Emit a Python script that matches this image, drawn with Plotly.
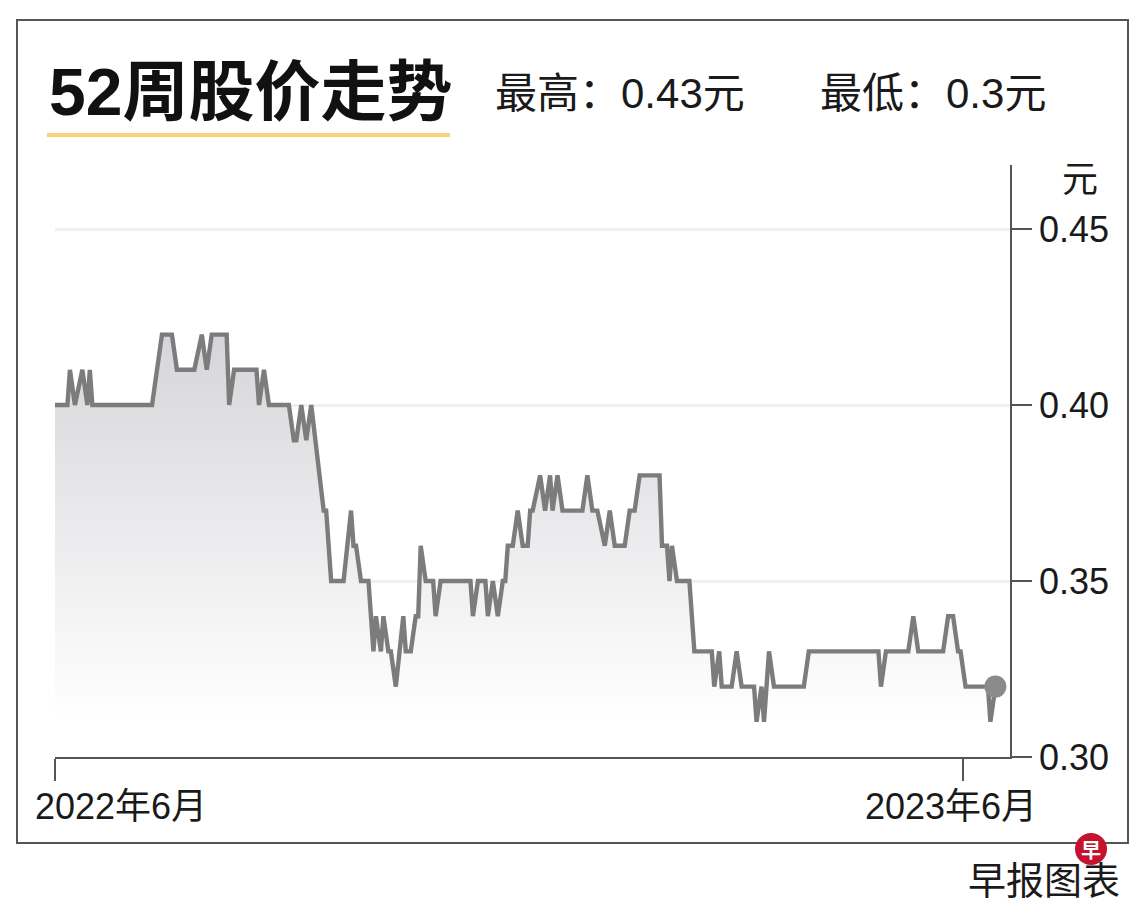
import plotly.graph_objects as go

# ---------------- data ----------------
dates = [
    "2022-06-01", "2022-06-06", "2022-06-07", "2022-06-09", "2022-06-12", "2022-06-14", "2022-06-15", "2022-06-16",
    "2022-07-10", "2022-07-14", "2022-07-18", "2022-07-20", "2022-07-27", "2022-07-30", "2022-08-01", "2022-08-03",
    "2022-08-09", "2022-08-10", "2022-08-12", "2022-08-21", "2022-08-22", "2022-08-24", "2022-08-26",
    "2022-09-03", "2022-09-05", "2022-09-06", "2022-09-08", "2022-09-10", "2022-09-12",
    "2022-09-17", "2022-09-18", "2022-09-20", "2022-09-25", "2022-09-28", "2022-09-29", "2022-09-30",
    "2022-10-02", "2022-10-05", "2022-10-07", "2022-10-08", "2022-10-10", "2022-10-11", "2022-10-13", "2022-10-14", "2022-10-16",
    "2022-10-19", "2022-10-20", "2022-10-22", "2022-10-24", "2022-10-25", "2022-10-26", "2022-10-28", "2022-10-31",
    "2022-11-01", "2022-11-03", "2022-11-15", "2022-11-16", "2022-11-18", "2022-11-21", "2022-11-22", "2022-11-24",
    "2022-11-26", "2022-11-28", "2022-11-29", "2022-11-30",
    "2022-12-02", "2022-12-04", "2022-12-06", "2022-12-08", "2022-12-09", "2022-12-10", "2022-12-13", "2022-12-15",
    "2022-12-17", "2022-12-18", "2022-12-20", "2022-12-22", "2022-12-30",
    "2023-01-01", "2023-01-03", "2023-01-05", "2023-01-08", "2023-01-10", "2023-01-12", "2023-01-16", "2023-01-18",
    "2023-01-20", "2023-01-22", "2023-01-30", "2023-01-31",
    "2023-02-02", "2023-02-03", "2023-02-04", "2023-02-06", "2023-02-11", "2023-02-13", "2023-02-20", "2023-02-21",
    "2023-02-23", "2023-02-24", "2023-02-28",
    "2023-03-02", "2023-03-04", "2023-03-09", "2023-03-10", "2023-03-12", "2023-03-13", "2023-03-15", "2023-03-17",
    "2023-03-29", "2023-03-31",
    "2023-04-28", "2023-04-29", "2023-05-01", "2023-05-10", "2023-05-12", "2023-05-14", "2023-05-24", "2023-05-26",
    "2023-05-28", "2023-05-30", "2023-05-31",
    "2023-06-02", "2023-06-11", "2023-06-12", "2023-06-14",
]
prices = [
    0.40, 0.40, 0.41, 0.40, 0.41, 0.40, 0.41, 0.40,
    0.40, 0.42, 0.42, 0.41, 0.41, 0.42, 0.41, 0.42,
    0.42, 0.40, 0.41, 0.41, 0.40, 0.41, 0.40,
    0.40, 0.39, 0.39, 0.40, 0.39, 0.40,
    0.37, 0.37, 0.35, 0.35, 0.37, 0.36, 0.36,
    0.35, 0.35, 0.33, 0.34, 0.33, 0.34, 0.33, 0.33, 0.32,
    0.34, 0.33, 0.33, 0.34, 0.34, 0.36, 0.35, 0.35,
    0.34, 0.35, 0.35, 0.34, 0.35, 0.35, 0.34, 0.35, 0.34, 0.35, 0.35, 0.36,
    0.36, 0.37, 0.36, 0.36, 0.37, 0.37, 0.38, 0.37, 0.38, 0.37, 0.38, 0.37, 0.37,
    0.38, 0.37, 0.37, 0.36, 0.37, 0.36, 0.36, 0.37, 0.37, 0.38, 0.38, 0.36,
    0.36, 0.35, 0.36, 0.35, 0.35, 0.33, 0.33, 0.32, 0.33, 0.32, 0.32,
    0.33, 0.32, 0.32, 0.31, 0.32, 0.31, 0.33, 0.32, 0.32, 0.33,
    0.33, 0.32, 0.33, 0.33, 0.34, 0.33, 0.33, 0.34, 0.34, 0.33, 0.33,
    0.32, 0.32, 0.31, 0.32,
]

x_tick_dates = ["2022-06-01", "2023-06-01"]
x_tick_text = ["2022年6月", "2023年6月"]
y_tick_vals = [0.30, 0.35, 0.40, 0.45]
y_tick_text = ["0.30", "0.35", "0.40", "0.45"]

title_text = "52周股价走势"
high_text = "最高：0.43元"
low_text = "最低：0.3元"
unit_text = "元"
source_text = "早报图表"
logo_text = "早"

# ---------------- layout geometry ----------------
W, H = 1140, 908
L, R, T, B = 55, 130, 165, 151
PW = W - L - R
PH = H - T - B


def px(x):
    return (x - L) / PW


def py(y):
    return (H - B - y) / PH


FONT = "Liberation Sans, Noto Sans CJK SC, sans-serif"
CJK = "Noto Sans CJK SC, Liberation Sans, sans-serif"

fig = go.Figure()

fig.add_trace(go.Scatter(
    x=dates, y=prices, mode="lines",
    line=dict(color="#7c7c7c", width=4.4),
    fill="tozeroy",
    fillgradient=dict(type="vertical", start=0.31, stop=0.42,
                      colorscale=[[0, "#ffffff"], [1, "#d6d6da"]]),
    hoverinfo="skip", showlegend=False,
))

fig.add_trace(go.Scatter(
    x=[dates[-1]], y=[prices[-1]], mode="markers",
    marker=dict(color="#8a8a8a", size=22, line=dict(width=0)),
    cliponaxis=False, hoverinfo="skip", showlegend=False,
))

annotations = [
    dict(text="<b>" + title_text + "</b>", x=px(47), y=py(92), xref="paper", yref="paper",
         xanchor="left", yanchor="middle", showarrow=False,
         font=dict(family=FONT, size=66, color="#111111")),
    dict(text=high_text, x=px(493), y=py(94), xref="paper", yref="paper",
         xanchor="left", yanchor="middle", showarrow=False,
         font=dict(family=FONT, size=42, color="#1a1a1a")),
    dict(text=low_text, x=px(818), y=py(94), xref="paper", yref="paper",
         xanchor="left", yanchor="middle", showarrow=False,
         font=dict(family=FONT, size=42, color="#1a1a1a")),
    dict(text=unit_text, x=px(1080), y=py(176), xref="paper", yref="paper",
         xanchor="center", yanchor="middle", showarrow=False,
         font=dict(family=CJK, size=36, color="#1a1a1a")),
    dict(text=x_tick_text[0], x=x_tick_dates[0], y=py(806), xref="x", yref="paper",
         xanchor="left", yanchor="middle", xshift=-22, showarrow=False,
         font=dict(family=FONT, size=36, color="#1a1a1a")),
    dict(text=x_tick_text[1], x=x_tick_dates[1], y=py(806), xref="x", yref="paper",
         xanchor="center", yanchor="middle", xshift=-12, showarrow=False,
         font=dict(family=FONT, size=36, color="#1a1a1a")),
    dict(text=source_text, x=px(1122), y=py(877), xref="paper", yref="paper",
         xanchor="right", yanchor="middle", showarrow=False,
         font=dict(family=CJK, size=38, color="#1a1a1a")),
    dict(text="<b>" + logo_text + "</b>", x=px(1091), y=py(849), xref="paper", yref="paper",
         xanchor="center", yanchor="middle", showarrow=False,
         font=dict(family=CJK, size=20, color="#ffffff")),
]

shapes = [
    # outer frame
    dict(type="rect", xref="paper", yref="paper", x0=px(17), x1=px(1128), y0=py(843), y1=py(20),
         line=dict(color="#555555", width=2), fillcolor="rgba(0,0,0,0)", layer="above"),
    # title underline
    dict(type="line", xref="paper", yref="paper", x0=px(47), x1=px(450), y0=py(135), y1=py(135),
         line=dict(color="#f5d27c", width=4)),
    # logo circle
    dict(type="circle", xref="paper", yref="paper", x0=px(1075), x1=px(1107), y0=py(865), y1=py(833),
         fillcolor="#c4122f", line=dict(width=0), layer="above"),
]

fig.update_layout(
    width=W, height=H,
    margin=dict(l=L, r=R, t=T, b=B),
    paper_bgcolor="#ffffff", plot_bgcolor="#ffffff",
    showlegend=False,
    annotations=annotations,
    shapes=shapes,
    xaxis=dict(
        type="date",
        range=["2022-06-01", "2023-06-19 21:00"],
        showgrid=False, zeroline=False,
        showline=True, linecolor="#555555", linewidth=1.5,
        ticks="outside", ticklen=22, tickwidth=1.5, tickcolor="#555555",
        tickvals=x_tick_dates, showticklabels=False,
    ),
    yaxis=dict(
        range=[0.30, 0.30 + 0.05 * PH / 176.0],
        side="right",
        showgrid=True, gridcolor="#f0f0f0", gridwidth=3,
        zeroline=False,
        showline=True, linecolor="#555555", linewidth=1.5,
        ticks="outside", ticklen=20, tickwidth=1.5, tickcolor="#555555",
        tickvals=y_tick_vals, ticktext=y_tick_text,
        tickfont=dict(family=FONT, size=36, color="#1a1a1a"),
    ),
)

fig.write_html("out.html", config={"displayModeBar": False},
               post_script="document.body.style.margin='0px';document.body.style.padding='0px';")
